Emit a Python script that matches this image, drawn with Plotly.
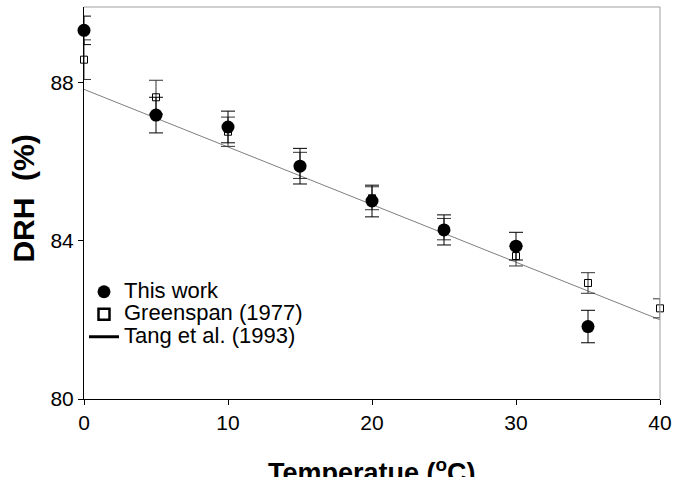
import plotly.graph_objects as go

# Temperatures (deg C)
temp_this = [0, 5, 10, 15, 20, 25, 30, 35]
drh_this = [89.31, 87.17, 86.87, 85.88, 85.00, 84.27, 83.86, 81.83]
err_this = [0.36, 0.45, 0.40, 0.45, 0.40, 0.38, 0.35, 0.41]

temp_green = [0, 5, 10, 15, 20, 25, 30, 35, 40]
drh_green = [88.57, 87.62, 86.75, 85.90, 85.07, 84.29, 83.61, 82.93, 82.29]
err_green = [0.50, 0.43, 0.37, 0.33, 0.29, 0.27, 0.25, 0.26, 0.24]

temp_tang = [0, 40]
drh_tang = [87.82, 82.00]

x_ticks = [0, 10, 20, 30, 40]
y_ticks = [80, 84, 88]

legend_names = ["This work", "Greenspan (1977)", "Tang et al. (1993)"]

FONT = "Liberation Sans, Arial, sans-serif"


def leg(name):
    return '<span style="font-size:22px">' + name + '</span>'


fig = go.Figure()

# Tang et al. line
fig.add_trace(go.Scatter(
    x=temp_tang, y=drh_tang, mode="lines",
    line=dict(color="#7f7f7f", width=1),
    showlegend=False, cliponaxis=False, hoverinfo="skip"))

# Greenspan open squares
fig.add_trace(go.Scatter(
    x=temp_green, y=drh_green, mode="markers",
    marker=dict(symbol="square-open", size=7, color="black", line=dict(width=1, color="black")),
    error_y=dict(type="data", array=err_green, visible=True, color="#333333", thickness=1, width=7),
    showlegend=False, cliponaxis=False))

# This work filled circles
fig.add_trace(go.Scatter(
    x=temp_this, y=drh_this, mode="markers",
    marker=dict(symbol="circle", size=13, color="black"),
    error_y=dict(type="data", array=err_this, visible=True, color="black", thickness=1, width=7),
    showlegend=False, cliponaxis=False))

# Legend-only entries
fig.add_trace(go.Scatter(
    x=[None], y=[None], mode="markers", name=leg(legend_names[0]),
    marker=dict(symbol="circle", size=13, color="black")))
fig.add_trace(go.Scatter(
    x=[None], y=[None], mode="markers", name=leg(legend_names[1]),
    marker=dict(symbol="square-open", size=11, color="black", line=dict(width=2.5, color="black"))))
fig.add_trace(go.Scatter(
    x=[None], y=[None], mode="lines", name=leg(legend_names[2]),
    line=dict(color="black", width=3)))

fig.update_layout(
    width=678, height=477,
    margin=dict(l=84, r=18, t=7, b=78, autoexpand=False),
    paper_bgcolor="white", plot_bgcolor="white",
    font=dict(family=FONT, color="black"),
    showlegend=True,
    legend=dict(x=0.0, y=0.315, xanchor="left", yanchor="top",
                bgcolor="rgba(0,0,0,0)", font=dict(size=15, family=FONT, color="black"),
                itemsizing="trace", tracegroupgap=0),
    xaxis=dict(range=[0, 40], tickvals=x_ticks, ticktext=[str(v) for v in x_ticks],
               showgrid=False, zeroline=False, showline=True, linecolor="black", linewidth=1,
               ticks="outside", ticklen=5, tickcolor="black", automargin=False,
               tickfont=dict(size=21, family=FONT, color="black")),
    yaxis=dict(range=[80, 89.9], tickvals=y_ticks, ticktext=[str(v) for v in y_ticks],
               showgrid=False, zeroline=False, showline=True, linecolor="black", linewidth=1,
               ticks="outside", ticklen=5, tickcolor="black", automargin=False,
               tickfont=dict(size=21, family=FONT, color="black")),
    shapes=[
        dict(type="line", xref="paper", yref="paper", x0=0, x1=1, y0=1, y1=1,
             line=dict(color="#a0a0a0", width=1)),
        dict(type="line", xref="paper", yref="paper", x0=1, x1=1, y0=0, y1=1,
             line=dict(color="#a0a0a0", width=1)),
    ],
    annotations=[
        dict(text="<b>DRH  (%)</b>", textangle=-90, xref="paper", yref="paper",
             x=-0.105, y=0.51, xanchor="center", yanchor="middle", showarrow=False,
             font=dict(size=30, family=FONT, color="black")),
        dict(text="<b>Temperatue (<sup>o</sup>C)</b>", xref="paper", yref="paper",
             x=0.5, y=-0.135, xanchor="center", yanchor="top", showarrow=False,
             font=dict(size=27, family=FONT, color="black")),
    ],
)

fig.write_html("out.html")
